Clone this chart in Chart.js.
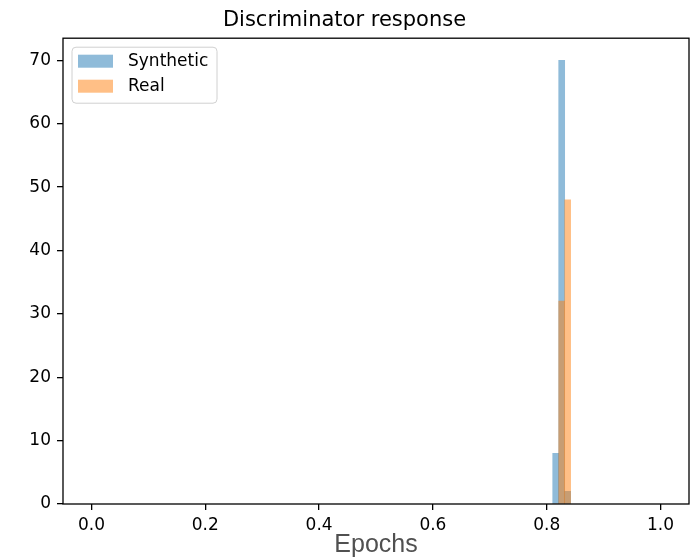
<!DOCTYPE html>
<html>
<head>
<meta charset="utf-8">
<script src="https://cdn.jsdelivr.net/npm/chart.js@4.4.1/dist/chart.umd.min.js"></script>
<style>
  html, body { margin: 0; padding: 0; background: #fff; }
  #wrap { width: 699px; height: 560px; }
</style>
</head>
<body>
<div id="wrap"><canvas id="chart"></canvas></div>
<script>
// centri dei bin e conteggi dell'istogramma
const binCenters = [0.8158, 0.8263, 0.8368];
const synthetic = [8, 70, 2];
const real = [0, 32, 48];
const xTicks = [0, 0.2, 0.4, 0.6, 0.8, 1.0];
const yTicks = [0, 10, 20, 30, 40, 50, 60, 70];

const toPoints = (vals) => binCenters.map((c, i) => ({ x: c, y: vals[i] }));

// cornice + legenda dentro l'area del grafico (stile matplotlib)
const frameLegend = {
  id: "frameLegend",
  afterDatasetsDraw(chart) {
    const { ctx, chartArea } = chart;
    ctx.save();
    ctx.strokeStyle = "#000";
    ctx.lineWidth = 1.3;
    ctx.strokeRect(chartArea.left, chartArea.top, chartArea.right - chartArea.left, chartArea.bottom - chartArea.top);

    const x = chartArea.left + 9, y = chartArea.top + 9, w = 145, h = 56, r = 4;
    ctx.beginPath();
    ctx.moveTo(x + r, y);
    ctx.arcTo(x + w, y, x + w, y + h, r);
    ctx.arcTo(x + w, y + h, x, y + h, r);
    ctx.arcTo(x, y + h, x, y, r);
    ctx.arcTo(x, y, x + w, y, r);
    ctx.closePath();
    ctx.fillStyle = "rgba(255,255,255,0.8)";
    ctx.fill();
    ctx.strokeStyle = "#d0d0d0";
    ctx.lineWidth = 1;
    ctx.stroke();

    chart.data.datasets.forEach((ds, i) => {
      const rowY = y + 14 + i * 25;
      ctx.fillStyle = ds.backgroundColor;
      ctx.fillRect(x + 6, rowY - 6.5, 35, 13);
      ctx.fillStyle = "#000";
      ctx.font = '17px "DejaVu Sans"';
      ctx.textBaseline = "middle";
      ctx.textAlign = "left";
      ctx.fillText(ds.label, x + 56, rowY);
    });
    ctx.restore();
  },
};

const tickFont = { family: "DejaVu Sans", size: 17 };

new Chart(document.getElementById("chart"), {
  type: "bar",
  data: {
    datasets: [
      {
        label: "Synthetic",
        data: toPoints(synthetic),
        backgroundColor: "rgba(31,119,180,0.5)",
        order: 2,
      },
      {
        label: "Real",
        data: toPoints(real),
        backgroundColor: "rgba(255,127,14,0.5)",
        order: 1,
      },
    ],
  },
  options: {
    responsive: true,
    maintainAspectRatio: false,
    animation: false,
    grouped: false,
    barPercentage: 1,
    categoryPercentage: 1,
    borderWidth: 0,
    layout: { padding: { left: 0, right: 10, top: 0, bottom: 0 } },
    plugins: {
      legend: { display: false },
      tooltip: { enabled: false },
      title: {
        display: true,
        text: "Discriminator response",
        color: "#000",
        font: { family: "DejaVu Sans", size: 21, weight: "normal" },
        padding: { top: 8, bottom: 5 },
      },
    },
    scales: {
      x: {
        type: "linear",
        offset: false,
        min: -0.05,
        max: 1.05,
        afterBuildTicks: (scale) => { scale.ticks = xTicks.map((v) => ({ value: v })); },
        afterFit: (scale) => { scale.height = 56; },
        grid: { offset: false, drawOnChartArea: false, drawTicks: true, tickLength: 6, color: "#000", lineWidth: 1.3 },
        border: { display: false },
        ticks: {
          color: "#000",
          font: tickFont,
          padding: 5,
          maxRotation: 0,
          callback: (v) => Number(v).toFixed(1),
        },
        title: {
          display: true,
          text: "Epochs",
          color: "#505050",
          font: { family: "Liberation Sans", size: 25 },
          padding: { top: 0, bottom: 0 },
        },
      },
      y: {
        type: "linear",
        min: 0,
        max: 73.5,
        afterBuildTicks: (scale) => { scale.ticks = yTicks.map((v) => ({ value: v })); },
        afterFit: (scale) => { scale.width = 63; },
        grid: { drawOnChartArea: false, drawTicks: true, tickLength: 6, color: "#000", lineWidth: 1.3 },
        border: { display: false },
        ticks: { color: "#000", font: tickFont, padding: 6 },
      },
    },
  },
  plugins: [frameLegend],
});
</script>
</body>
</html>
